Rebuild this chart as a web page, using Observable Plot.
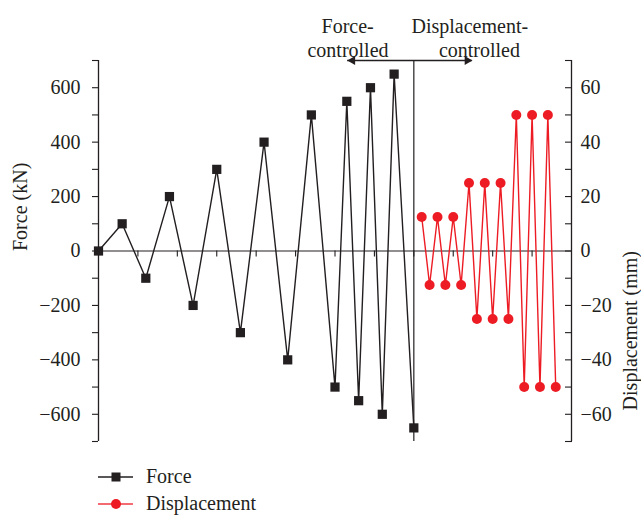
<!DOCTYPE html>
<html>
<head>
<meta charset="utf-8">
<script src="https://cdn.jsdelivr.net/npm/d3@7"></script>
<script src="https://cdn.jsdelivr.net/npm/@observablehq/plot@0.6"></script>
<style>
  html, body { margin: 0; padding: 0; background: #fff; }
  body { width: 641px; height: 517px; overflow: hidden; font-family: "Liberation Serif", serif; color: #231f20; }
  #legend { margin-top: 13px; padding-left: 98px; font-size: 20px; }
  .row { display: flex; align-items: center; height: 27px; }
  .row svg { margin-right: 12px; flex: none; }
</style>
</head>
<body>
<div id="chart"></div>
<div id="legend"></div>
<script>
// ---- data ----
const forceStep = [0, 3, 6, 9, 12, 15, 18, 21, 24, 27, 30, 31.5, 33, 34.5, 36, 37.5, 40];
const forceKN   = [0, 100, -100, 200, -200, 300, -300, 400, -400, 500, -500, 550, -550, 600, -600, 650, -650];
const dispStep  = [41, 42, 43, 44, 45, 46, 47, 48, 49, 50, 51, 52, 53, 54, 55, 56, 57, 58];
const dispMM    = [12.5, -12.5, 12.5, -12.5, 12.5, -12.5, 25, -25, 25, -25, 25, -25, 50, -50, 50, -50, 50, -50];
const forceTicks  = [-700, -600, -500, -400, -300, -200, -100, 0, 100, 200, 300, 400, 500, 600, 700];
const forceLabels = [-600, -400, -200, 0, 200, 400, 600];
const dispTicks   = [-70, -60, -50, -40, -30, -20, -10, 0, 10, 20, 30, 40, 50, 60, 70];
const dispLabels  = [-60, -40, -20, 0, 20, 40, 60];
const stepTicks   = [5, 10, 15, 20, 25, 30, 35, 40, 45, 50, 55];
const seriesNames = ["Force", "Displacement"];
const annotLeft   = ["Force-", "controlled"];
const annotRight  = ["Displacement-", "controlled"];

const kNperMM = 10; // right axis: 60 mm aligns with 600 kN
const black = "#231f20", red = "#ed1c24";
const fmt = d3.format("d");

const force = forceStep.map((s, i) => ({s, v: forceKN[i]}));
const disp  = dispStep.map((s, i) => ({s, v: dispMM[i] * kNperMM}));

const chart = Plot.plot({
  width: 641,
  height: 450,
  marginLeft: 98,
  marginRight: 70,
  marginTop: 60,
  marginBottom: 9,
  style: {fontFamily: "'Liberation Serif', serif", fontSize: "20px", color: black, background: "#fff"},
  x: {domain: [0, 60], axis: null},
  y: {domain: [-700, 700], axis: null},
  marks: [
    // frame lines
    Plot.ruleY([0], {stroke: black, strokeWidth: 1.2}),
    Plot.ruleX([0, 60], {stroke: black, strokeWidth: 1.3}),
    Plot.ruleX([40], {stroke: black, strokeWidth: 1.2}),
    Plot.ruleX(stepTicks, {y1: 0, y2: -22, stroke: black, strokeWidth: 1.1}),
    // left axis
    Plot.axisY(forceTicks, {anchor: "left", tickSize: 6, fill: "none", label: null, stroke: black, strokeWidth: 1.1}),
    Plot.axisY(forceLabels, {anchor: "left", tickSize: 0, tickPadding: 18, label: null, fill: black}),
    // right axis
    Plot.axisY(dispTicks.map(d => d * kNperMM), {anchor: "right", tickSize: 7, dx: -7, fill: "none", label: null, stroke: black, strokeWidth: 1.1}),
    Plot.axisY(dispLabels.map(d => d * kNperMM), {anchor: "right", tickSize: 0, tickPadding: 9, label: null, fill: black, tickFormat: d => fmt(d / kNperMM)}),
    // axis titles
    Plot.text(["Force (kN)"], {frameAnchor: "left", rotate: -90, dx: -78, fill: black}),
    Plot.text(["Displacement (mm)"], {frameAnchor: "right", rotate: -90, dx: 59, fill: black}),
    // series
    Plot.line(force, {x: "s", y: "v", stroke: black, strokeWidth: 1.4}),
    Plot.dot(force, {x: "s", y: "v", symbol: "square", r: 5.2, fill: black}),
    Plot.line(disp, {x: "s", y: "v", stroke: red, strokeWidth: 1.4}),
    Plot.dot(disp, {x: "s", y: "v", r: 5, fill: red}),
    // control-mode annotation
    Plot.ruleY([700], {x1: 31.6, x2: 47.4, stroke: black, strokeWidth: 1.3}),
    Plot.dot([{x: 32.22, a: -90}, {x: 46.78, a: 90}], {x: "x", y: 700, symbol: "triangle", r: 3.35, rotate: "a", fill: black}),
    Plot.text([annotLeft[0]], {x: 31.6, frameAnchor: "top", dy: -42, fill: black}),
    Plot.text([annotLeft[1]], {x: 31.65, frameAnchor: "top", dy: -18, fill: black}),
    Plot.text([annotRight[0]], {x: 47.1, frameAnchor: "top", dy: -42, fill: black}),
    Plot.text([annotRight[1]], {x: 48.32, frameAnchor: "top", dy: -18, fill: black})
  ]
});
document.getElementById("chart").appendChild(chart);

// legend
const legend = document.getElementById("legend");
seriesNames.forEach((name, i) => {
  const row = document.createElement("div");
  row.className = "row";
  const sw = d3.create("svg").attr("width", 36).attr("height", 20);
  const col = i === 0 ? black : "#ef3a40";
  sw.append("line").attr("x1", 0).attr("x2", 35).attr("y1", 10).attr("y2", 10).attr("stroke", col).attr("stroke-width", 1.4);
  if (i === 0) sw.append("rect").attr("x", 13.5).attr("y", 5.5).attr("width", 9).attr("height", 9).attr("fill", black);
  else sw.append("circle").attr("cx", 18).attr("cy", 10).attr("r", 5).attr("fill", red);
  row.appendChild(sw.node());
  const t = document.createElement("span");
  t.textContent = name;
  row.appendChild(t);
  legend.appendChild(row);
});
</script>
</body>
</html>
